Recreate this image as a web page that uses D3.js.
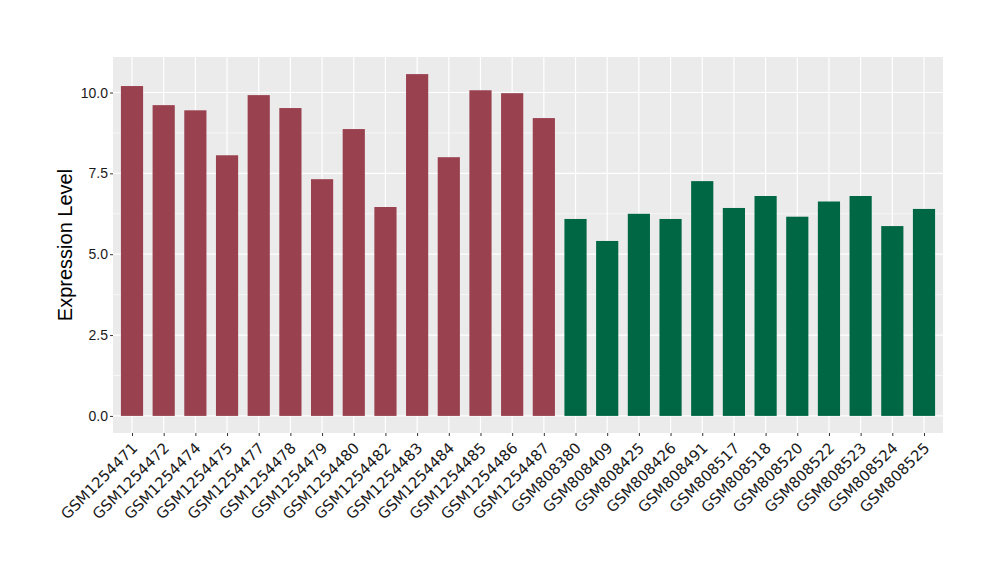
<!DOCTYPE html>
<html><head><meta charset="utf-8">
<script src="https://cdn.jsdelivr.net/npm/d3@7"></script>
<style>body{margin:0;background:#fff;} text{font-family:"Liberation Sans",Arial,sans-serif;}</style>
</head><body><svg id="c" width="1000" height="580"></svg>
<script>
const categories = ["GSM1254471","GSM1254472","GSM1254474","GSM1254475","GSM1254477","GSM1254478","GSM1254479","GSM1254480","GSM1254482","GSM1254483","GSM1254484","GSM1254485","GSM1254486","GSM1254487","GSM808380","GSM808409","GSM808425","GSM808426","GSM808491","GSM808517","GSM808518","GSM808520","GSM808522","GSM808523","GSM808524","GSM808525"];
const values = [10.20,9.61,9.45,8.06,9.92,9.52,7.32,8.87,6.46,10.57,8.00,10.07,9.98,9.21,6.09,5.41,6.25,6.09,7.26,6.43,6.80,6.16,6.63,6.80,5.87,6.40];
const groups = ["A","A","A","A","A","A","A","A","A","A","A","A","A","A","B","B","B","B","B","B","B","B","B","B","B","B"];
const groupColors = {A:"#9A4150", B:"#006745"};
const yTicks = [0,2.5,5,7.5,10];
const yMinor = [1.25,3.75,6.25,8.75];
const yTitle = "Expression Level";

const svg = d3.select("#c");
const L=113, R=943, T=57, B=433;
const maxV = d3.max(values);
const y = d3.scaleLinear().domain([-0.05*maxV, maxV*1.05]).range([B,T]);
const n = categories.length;
const step = (R-L)/(n-1+1.2);
const x = d3.scalePoint().domain(categories).range([L+0.6*step, R-0.6*step]);
const bw = step*0.7;

svg.append("rect").attr("x",L).attr("y",T).attr("width",R-L).attr("height",B-T).attr("fill","#EBEBEB");
svg.append("g").selectAll("line").data(yMinor).join("line")
 .attr("x1",L).attr("x2",R).attr("y1",d=>y(d)).attr("y2",d=>y(d)).attr("stroke","#fff").attr("stroke-width",0.6);
svg.append("g").selectAll("line").data(yTicks).join("line")
 .attr("x1",L).attr("x2",R).attr("y1",d=>y(d)).attr("y2",d=>y(d)).attr("stroke","#fff").attr("stroke-width",1.2);
svg.append("g").selectAll("line").data(categories).join("line")
 .attr("y1",T).attr("y2",B).attr("x1",d=>x(d)).attr("x2",d=>x(d)).attr("stroke","#fff").attr("stroke-width",1.2);

svg.append("g").selectAll("rect").data(values).join("rect")
 .attr("x",(d,i)=>x(categories[i])-bw/2).attr("width",bw)
 .attr("y",d=>y(d)).attr("height",d=>y(0)-y(d))
 .attr("fill",(d,i)=>groupColors[groups[i]]);

const ya = d3.axisLeft(y).tickValues(yTicks).tickFormat(d3.format(".1f")).tickSize(3).tickPadding(2);
const gy = svg.append("g").attr("transform",`translate(${L},0)`).call(ya);
gy.select(".domain").remove();
gy.selectAll("line").attr("stroke","#333");
gy.selectAll("text").attr("fill","#1a1a1a").style("font-size","14px").style("font-family","Liberation Sans,Arial,sans-serif");

const xa = d3.axisBottom(x).tickSize(3).tickPadding(2);
const gx = svg.append("g").attr("transform",`translate(0,${B})`).call(xa);
gx.select(".domain").remove();
gx.selectAll("line").attr("stroke","#333");
gx.selectAll("text").attr("fill","#1a1a1a").style("font-size","15px").style("font-family","DejaVu Sans,sans-serif")
 .attr("text-anchor","end").attr("dy",null).attr("y",null)
 .attr("transform","translate(6,16) rotate(-45)");

svg.append("text").attr("transform",`translate(72,${(T+B)/2}) rotate(-90)`)
 .attr("text-anchor","middle").style("font-size","20px").attr("fill","#000").text(yTitle);
</script></body></html>
